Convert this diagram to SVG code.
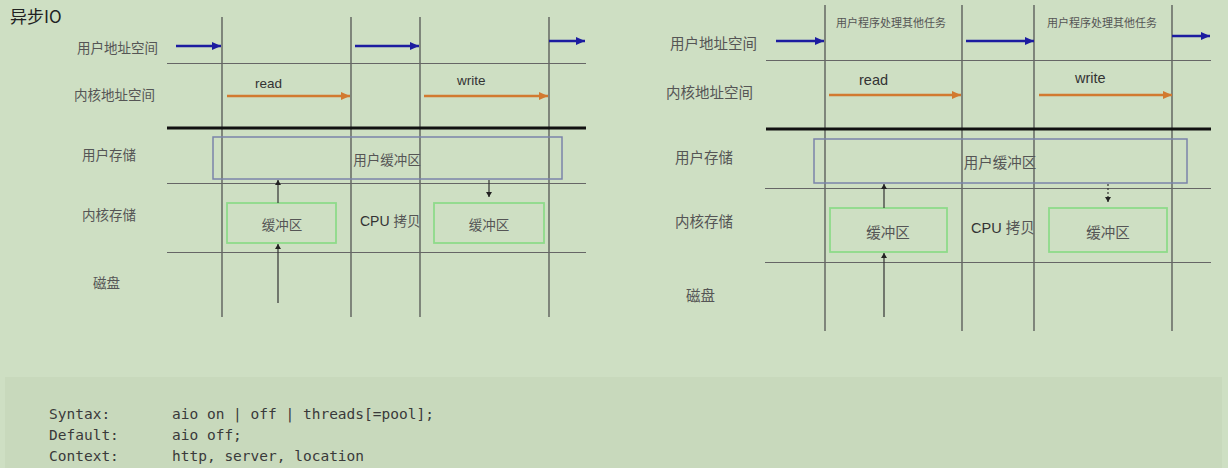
<svg xmlns="http://www.w3.org/2000/svg" width="1228" height="468" viewBox="0 0 1228 468">
<defs>
<style>
.cjk{font-family:"Noto Sans CJK SC","Noto Sans",sans-serif;fill:#555}
.lat{font-family:"Liberation Sans",Arial,sans-serif;fill:#333}
.code{font-family:"DejaVu Sans Mono","Liberation Mono",monospace;font-size:14.5px;fill:#3a3a3a}
.v{stroke:#4a4a4a;stroke-width:1.2}
.h{stroke:#666;stroke-width:1.2}
.thick{stroke:#111;stroke-width:3}
.ubuf{fill:none;stroke:#7b84aa;stroke-width:1.5}
.kbuf{fill:none;stroke:#8edb8a;stroke-width:1.8}
.blue{stroke:#1c1ca0;stroke-width:2.5;fill:none}
.orange{stroke:#d27a30;stroke-width:2.5;fill:none}
.blk{stroke:#333;stroke-width:1.2;fill:none}
</style>
<marker id="mb" markerUnits="userSpaceOnUse" markerWidth="10" markerHeight="10" refX="9" refY="4" orient="auto"><path d="M0,0 L9,4 L0,8 z" fill="#1c1ca0"/></marker>
<marker id="mo" markerUnits="userSpaceOnUse" markerWidth="10" markerHeight="10" refX="9" refY="4" orient="auto"><path d="M0,0 L9,4 L0,8 z" fill="#d27a30"/></marker>
<marker id="mk" markerUnits="userSpaceOnUse" markerWidth="8" markerHeight="8" refX="5" refY="3" orient="auto"><path d="M0,0 L5,3 L0,6 z" fill="#222"/></marker>
</defs>
<rect width="1228" height="468" fill="#cedfc3"/>
<rect x="5" y="377" width="1217" height="91" fill="#c8d9bc"/>

<text x="10" y="23" font-family="Noto Sans CJK SC,sans-serif" font-size="17" fill="#222">异步IO</text>

<!-- Left diagram grid -->
<g id="left-grid">
<line class="v" x1="222" y1="17" x2="222" y2="317"/>
<line class="v" x1="351" y1="17" x2="351" y2="317"/>
<line class="v" x1="420" y1="17" x2="420" y2="317"/>
<line class="v" x1="549" y1="17" x2="549" y2="317"/>
<line class="h" x1="167" y1="63.5" x2="586" y2="63.5"/>
<line class="thick" x1="167" y1="128" x2="586" y2="128"/>
<line class="h" x1="167" y1="183.5" x2="586" y2="183.5"/>
<line class="h" x1="167" y1="252.5" x2="586" y2="252.5"/>
</g>
<g id="left-labels" class="cjk" font-size="13.5">
<text x="77" y="53">用户地址空间</text>
<text x="74" y="100">内核地址空间</text>
<text x="82" y="160">用户存储</text>
<text x="82" y="220">内核存储</text>
<text x="93" y="288">磁盘</text>
</g>
<g id="left-user-buffer">
<rect class="ubuf" x="213" y="137" width="349" height="42"/>
<text class="cjk" x="387" y="165" font-size="13.5" text-anchor="middle">用户缓冲区</text>
</g>
<g id="left-kbuf-1">
<rect class="kbuf" x="227" y="203" width="109" height="40"/>
<text class="cjk" x="282" y="230" font-size="13.5" text-anchor="middle">缓冲区</text>
</g>
<g id="left-kbuf-2">
<rect class="kbuf" x="434" y="203" width="110" height="40"/>
<text class="cjk" x="489" y="230" font-size="13.5" text-anchor="middle">缓冲区</text>
</g>
<text class="lat" x="360" y="226" font-size="14">CPU <tspan class="cjk" font-size="13.5">拷贝</tspan></text>
<text class="lat" x="255" y="88" font-size="13.5">read</text>
<text class="lat" x="457" y="85" font-size="13.5">write</text>

<!-- Right diagram grid -->
<g id="right-grid">
<line class="v" x1="825" y1="5" x2="825" y2="331"/>
<line class="v" x1="962" y1="5" x2="962" y2="331"/>
<line class="v" x1="1034" y1="5" x2="1034" y2="331"/>
<line class="v" x1="1172" y1="5" x2="1172" y2="331"/>
<line class="h" x1="766" y1="60.5" x2="1211" y2="60.5"/>
<line class="thick" x1="766" y1="129" x2="1211" y2="129"/>
<line class="h" x1="765" y1="188.5" x2="1211" y2="188.5"/>
<line class="h" x1="765" y1="262.5" x2="1211" y2="262.5"/>
</g>
<g id="right-labels" class="cjk" font-size="14.5">
<text x="670" y="49">用户地址空间</text>
<text x="666" y="98">内核地址空间</text>
<text x="675" y="163">用户存储</text>
<text x="675" y="227">内核存储</text>
<text x="686" y="301">磁盘</text>
</g>
<g id="right-tasks" class="cjk" font-size="11">
<text x="836" y="27">用户程序处理其他任务</text>
<text x="1047" y="27">用户程序处理其他任务</text>
</g>
<g id="right-user-buffer">
<rect class="ubuf" x="814" y="139" width="373" height="44"/>
<text class="cjk" x="1000" y="168" font-size="14.5" text-anchor="middle">用户缓冲区</text>
</g>
<g id="right-kbuf-1">
<rect class="kbuf" x="830" y="208" width="117" height="44"/>
<text class="cjk" x="888" y="238" font-size="14.5" text-anchor="middle">缓冲区</text>
</g>
<g id="right-kbuf-2">
<rect class="kbuf" x="1049" y="208" width="118" height="44"/>
<text class="cjk" x="1108" y="238" font-size="14.5" text-anchor="middle">缓冲区</text>
</g>
<text class="lat" x="971" y="233" font-size="14.5">CPU <tspan class="cjk" font-size="14.5">拷贝</tspan></text>
<text class="lat" x="859" y="85" font-size="14.5">read</text>
<text class="lat" x="1075" y="83" font-size="14.5">write</text>

<g id="connectors">
<line class="blue" x1="176" y1="46" x2="221" y2="46" marker-end="url(#mb)"/>
<line class="blue" x1="355" y1="46" x2="419" y2="46" marker-end="url(#mb)"/>
<line class="blue" x1="549" y1="41" x2="585" y2="41" marker-end="url(#mb)"/>
<line class="orange" x1="227" y1="96" x2="350" y2="96" marker-end="url(#mo)"/>
<line class="orange" x1="424" y1="96" x2="548" y2="96" marker-end="url(#mo)"/>
<line class="blk" x1="278" y1="203" x2="278" y2="180" marker-end="url(#mk)"/>
<line class="blk" x1="278" y1="303" x2="278" y2="244" marker-end="url(#mk)"/>
<line class="blk" x1="489" y1="180" x2="489" y2="197" marker-end="url(#mk)"/>

<line class="blue" x1="776" y1="41" x2="824" y2="41" marker-end="url(#mb)"/>
<line class="blue" x1="966" y1="41" x2="1034" y2="41" marker-end="url(#mb)"/>
<line class="blue" x1="1172" y1="36" x2="1210" y2="36" marker-end="url(#mb)"/>
<line class="orange" x1="829" y1="95" x2="961" y2="95" marker-end="url(#mo)"/>
<line class="orange" x1="1039" y1="95" x2="1172" y2="95" marker-end="url(#mo)"/>
<line class="blk" x1="884" y1="208" x2="884" y2="184" marker-end="url(#mk)"/>
<line class="blk" x1="884" y1="317" x2="884" y2="253" marker-end="url(#mk)"/>
<line class="blk" x1="1108" y1="184" x2="1108" y2="202" stroke-dasharray="2,2" marker-end="url(#mk)"/>
</g>

<g id="code">
<text class="code" x="49" y="419">Syntax:</text>
<text class="code" x="172" y="419">aio on | off | threads[=pool];</text>
<text class="code" x="49" y="440">Default:</text>
<text class="code" x="172" y="440">aio off;</text>
<text class="code" x="49" y="461">Context:</text>
<text class="code" x="172" y="461">http, server, location</text>
</g>
</svg>
